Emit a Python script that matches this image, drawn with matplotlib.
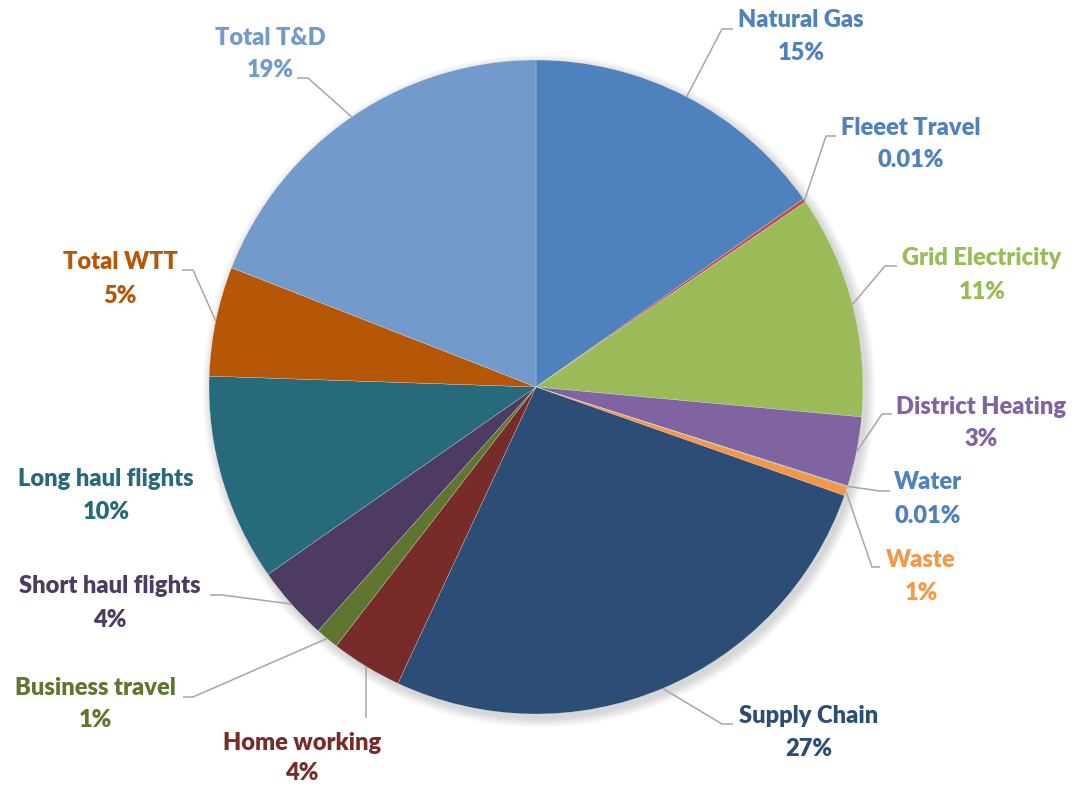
import numpy as np
import matplotlib
matplotlib.use("Agg")
import matplotlib.pyplot as plt
from matplotlib.patches import Circle

# Data (share of emissions, %)
categories = ["Natural Gas", "Fleeet Travel", "Grid Electricity", "District Heating",
              "Water", "Waste", "Supply Chain", "Home working", "Business travel",
              "Short haul flights", "Long haul flights", "Total WTT", "Total T&D"]
values = [15.24, 0.18, 11.04, 3.43, 0.05, 0.45, 26.55, 3.52, 1.15, 3.68, 10.24, 5.41, 19.06]
pct_labels = ["15%", "0.01%", "11%", "3%", "0.01%", "1%", "27%", "4%", "1%", "4%", "10%", "5%", "19%"]

colors = ["#4F81BD", "#C0504D", "#9BBB59", "#8064A2", "#4BACC6", "#F79646", "#2C4D75",
          "#772C2A", "#5F7530", "#4D3B62", "#276A7C", "#B65708", "#729ACA"]
text_colors = ["#4F81BD", "#4F81BD", "#9BBB59", "#8064A2", "#4F81BD", "#F79646", "#2C4D75",
               "#772C2A", "#5F7530", "#4D3B62", "#276A7C", "#B65708", "#729ACA"]

# label layout in pixels: text x, name y, pct y
label_pos = [(801, 20, 53), (911, 128, 160), (982, 258, 292), (981, 407, 439),
             (928, 482, 516), (921, 560, 593), (809, 716, 749), (302, 743, 773),
             (95, 688, 720), (110, 586, 620), (106, 479, 512), (120, 262, 296),
             (270, 38, 70)]
# leader line elbow and end (pixels); None = no leader
leaders = [((722, 29), (733, 29)), ((826, 136), (836, 136)), ((885, 266), (897, 266)),
           ((882, 414), (892, 414)), ((880, 491), (890, 491)), ((872, 567), (880, 567)),
           ((722, 724), (733, 724)), ((366, 718), (366, 718)), ((193, 697), (183, 697)),
           ((222, 595), (210, 595)), None, ((193, 270), (182, 270)), ((308, 78), (297, 78))]

W, H = 1075, 790
cx, cy, R = 536, 387, 327


def fy(y):
    # pixel row -> data y
    return H - y


plt.rcParams['font.family'] = ['Lato', 'DejaVu Sans']
fig = plt.figure(figsize=(10.75, 7.9), dpi=100)
ax = fig.add_axes([0, 0, 1, 1])

# soft shadow under the pie
for i in range(8):
    ax.add_patch(Circle((cx + 3, fy(cy) - 4), R + 1 + i * 1.2, color="black",
                        alpha=0.018, lw=0, zorder=0))

wedges, _ = ax.pie(values, colors=colors, startangle=90, counterclock=False,
                   center=(cx, fy(cy)), radius=R,
                   wedgeprops=dict(linewidth=0.15, edgecolor="white"))
for w in wedges:
    w.set_zorder(2)

for i, w in enumerate(wedges):
    tx, y1, y2 = label_pos[i]
    ax.text(tx, fy(y1), categories[i], color=text_colors[i], fontsize=17, fontweight="heavy",
            ha="center", va="center", zorder=4)
    ax.text(tx, fy(y2), pct_labels[i], color=text_colors[i], fontsize=17, fontweight="heavy",
            ha="center", va="center", zorder=4)
    if leaders[i] is None:
        continue
    mid = np.deg2rad((w.theta1 + w.theta2) / 2)
    px, pyy = cx + R * np.cos(mid), fy(cy) + R * np.sin(mid)
    (ex, ey), (lx, ly) = leaders[i]
    ax.plot([px, ex, lx], [pyy, fy(ey), fy(ly)], color="#A6A6A6", lw=1.1, zorder=3,
            solid_capstyle="butt")

ax.set_xlim(0, W)
ax.set_ylim(0, H)
ax.set_aspect("equal")
ax.axis("off")

plt.savefig("out.png", dpi=100)
